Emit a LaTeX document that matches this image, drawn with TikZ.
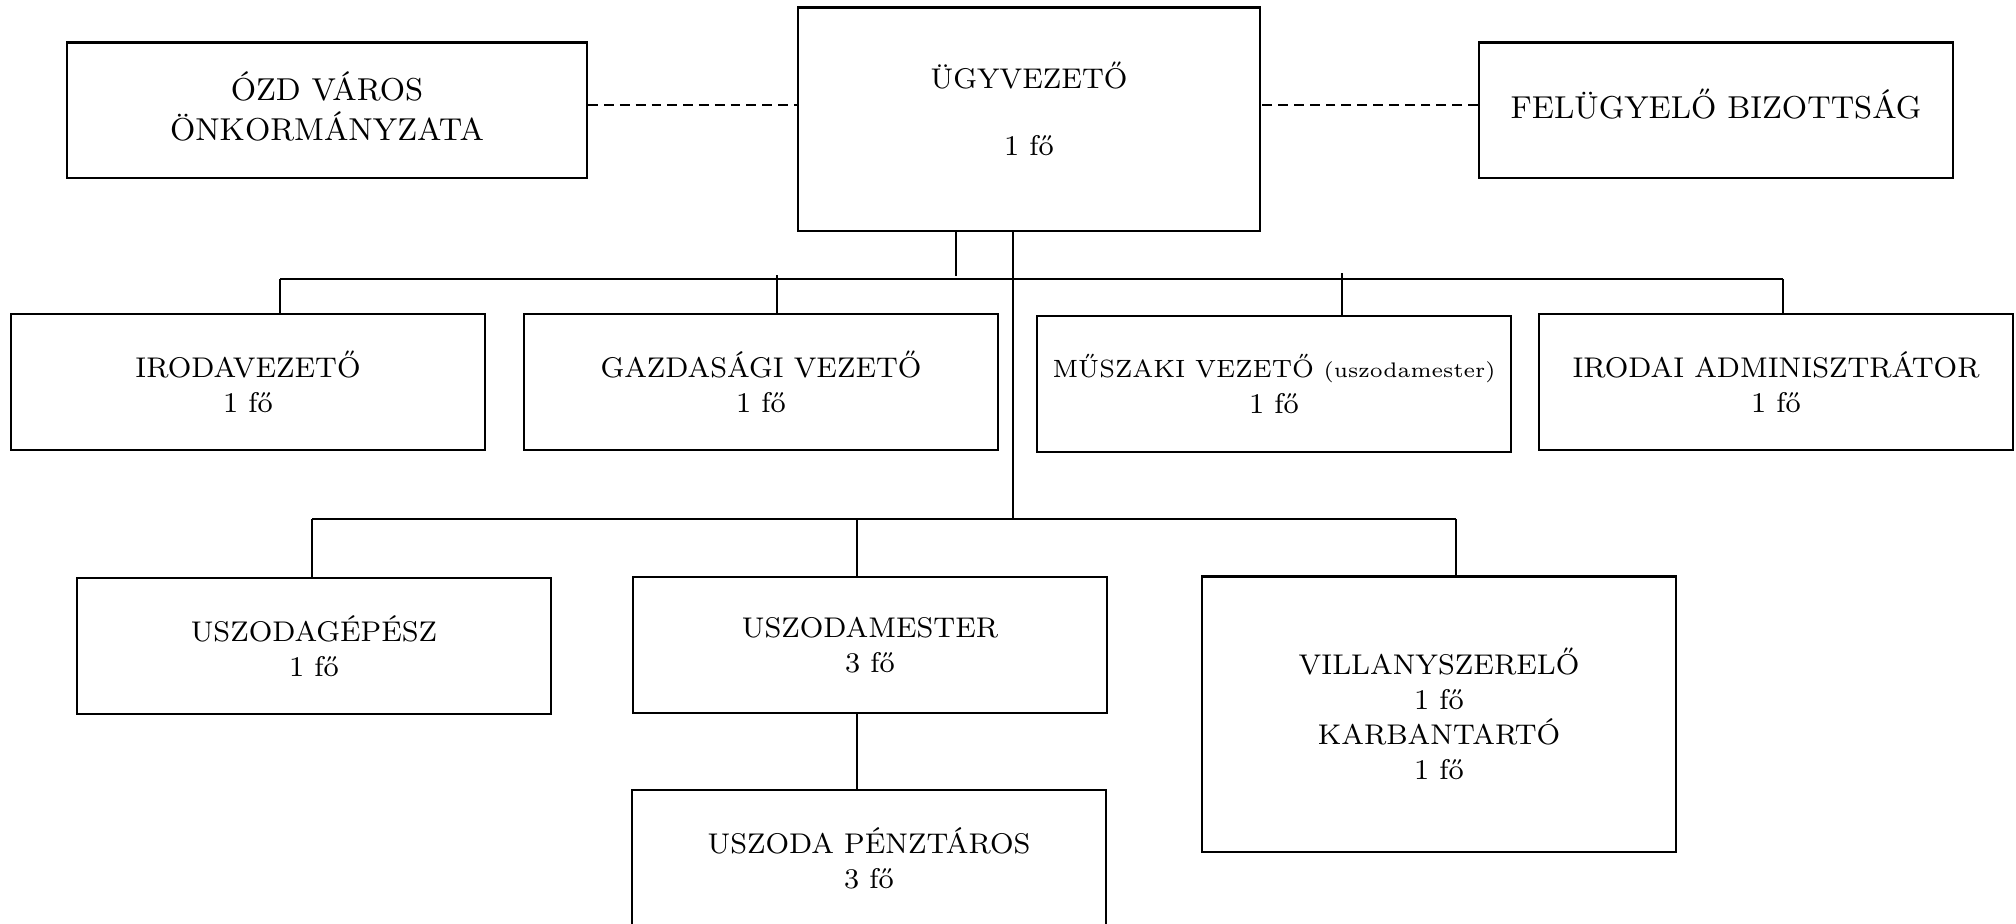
\documentclass[tikz,border=0pt]{standalone}
\usepackage{fontspec}
\tikzstyle{bx}=[draw,line width=0.6pt,align=center,inner sep=0pt,minimum width=4.74cm,minimum height=1.36cm,font=\fontsize{8.1}{10}\selectfont]
\tikzstyle{bxl}=[bx,font=\fontsize{9}{11.4}\selectfont]
\tikzstyle{ln}=[line width=0.4pt]
\tikzstyle{bus}=[line width=0.5pt]
\tikzstyle{dsh}=[line width=0.6pt,dash pattern=on 2.8pt off 1.7pt]

\begin{document}
\begin{tikzpicture}[x=0.01cm,y=-0.01cm]
\useasboundingbox (0,0) rectangle (2016,923);
\node[bxl,minimum width=5.2cm,minimum height=1.35cm,text depth=0.08cm] (ozd) at (327,110) {ÓZD VÁROS\\ÖNKORMÁNYZATA};
\node[bx,minimum width=4.62cm,minimum height=2.23cm,text depth=0.2cm] (ugy) at (1029,119) {ÜGYVEZETŐ\\[9pt]1 fő};
\node[bxl,minimum height=1.35cm,text depth=0.13cm] (fel) at (1716,110) {FELÜGYELŐ BIZOTTSÁG};
\node[bx] (irod) at (248,382) {IRODAVEZETŐ\\1 fő};
\node[bx] (gazd) at (761,382) {GAZDASÁGI VEZETŐ\\1 fő};
\node[bx] (musz) at (1274,384) {{\fontsize{7.1}{8}\selectfont MŰSZAKI VEZETŐ {\fontsize{6}{8}\selectfont(uszodamester)}}\\1 fő};
\node[bx] (adm) at (1776,382) {IRODAI ADMINISZTRÁTOR\\1 fő};
\node[bx] (gep) at (314,646) {USZODAGÉPÉSZ\\1 fő};
\node[bx] (mest) at (870,645) {USZODAMESTER\\3 fő};
\node[bx,minimum height=2.75cm] (vill) at (1439,714) {VILLANYSZERELŐ\\1 fő\\KARBANTARTÓ\\1 fő};
\node[bx] (penz) at (869,858) {USZODA PÉNZTÁROS\\3 fő};
\draw[dsh] ([yshift=0.05cm]ozd.east) -- ([yshift=0.05cm]ozd.east -| ugy.west);
\draw[dsh] ([yshift=0.05cm]fel.west) -- ([yshift=0.05cm]fel.west -| ugy.east);
\coordinate (s1) at (956,276); \coordinate (s2) at (1013,519);
\coordinate (b1w) at (280,279); \coordinate (b1e) at (1783,279);
\coordinate (b2w) at (312,519); \coordinate (b2e) at (1456,519);
\coordinate (t2) at (777,275); \coordinate (t3) at (1342,273); \coordinate (t5) at (857,519);
\draw[ln] (s1 |- ugy.south) -- (s1);
\draw[ln] (s2 |- ugy.south) -- (s2);
\draw[bus] (b1w) -- (b1e);
\draw[ln] (b1w) -- (b1w |- irod.north);
\draw[ln] (t2) -- (t2 |- gazd.north);
\draw[ln] (t3) -- (t3 |- musz.north);
\draw[ln] (b1e) -- (b1e |- adm.north);
\draw[bus] (b2w) -- (b2e);
\draw[ln] (b2w) -- (b2w |- gep.north);
\draw[ln] (t5) -- (t5 |- mest.north);
\draw[ln] (b2e) -- (b2e |- vill.north);
\draw[ln] (mest.south -| t5) -- (penz.north -| t5);
\end{tikzpicture}
\end{document}
